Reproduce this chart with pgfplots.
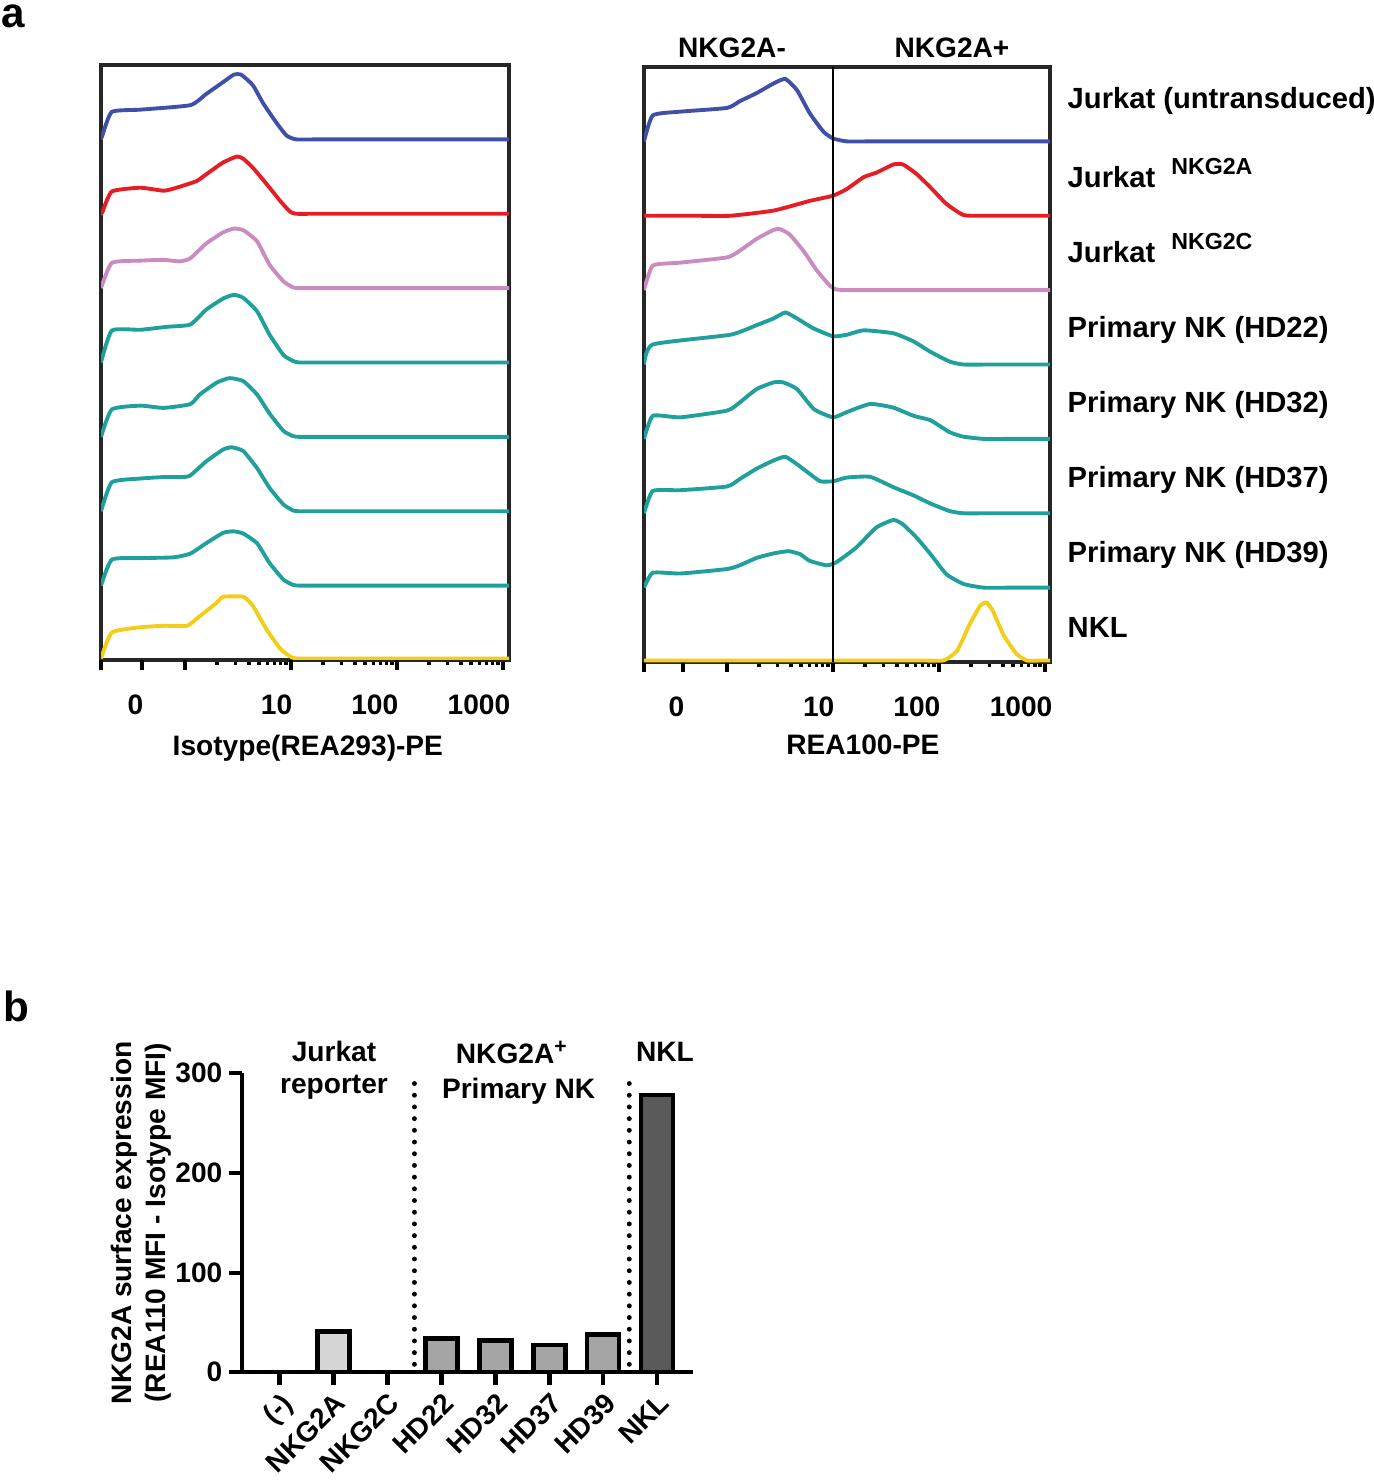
\documentclass[border=0pt]{standalone}
\usepackage{fontspec}
\setmainfont{Liberation Sans}
\usepackage{pgfplots}
\pgfplotsset{compat=1.18}
\definecolor{cblue}{HTML}{4050A8}
\definecolor{cred}{HTML}{E51E25}
\definecolor{cpink}{HTML}{C98BC0}
\definecolor{cteal}{HTML}{1FA09C}
\definecolor{cyel}{HTML}{F2CE1B}
\definecolor{glight}{HTML}{D6D6D6}
\definecolor{gmid}{HTML}{A5A5A5}
\definecolor{gdark}{HTML}{595959}
\newcommand{\fnt}{\bfseries\fontsize{8}{9.5}\selectfont}
\newcommand{\rfnt}{\bfseries\fontsize{8.3}{9.5}\selectfont}
\newcommand{\supl}[1]{\hspace{1.6mm}\raisebox{1.3mm}{\fontsize{6.6}{7}\selectfont #1}}
\pgfplotsset{
  histax/.style={
    scale only axis, height=59.5mm,
    ymin=0, ymax=8, ytick=\empty,
    axis line style={line width=1.1pt, black!85},
    tick align=outside, xtick pos=bottom,
    xtick={3},
    xticklabels={1000},
    major tick length=1.0mm, minor tick length=0.5mm,
    every tick/.style={black, line width=1pt},
    minor xtick={0.301,0.477,0.602,0.699,0.778,0.845,0.903,0.954,
                 1.301,1.477,1.602,1.699,1.778,1.845,1.903,1.954,
                 2.301,2.477,2.602,2.699,2.778,2.845,2.903,2.954},
    tick label style={font=\fnt},
    xticklabel style={anchor=north east, inner sep=0pt, xshift=0.8mm, yshift=-2.4mm},
    extra x tick style={xticklabel style={xshift=-0.6mm}},
    label style={font=\fnt},
  },
  hist/.style={line width=1.1pt, no marks, smooth, tension=0.3},
}
\begin{document}
\begin{tikzpicture}[x=0.1mm, y=0.1mm, every node/.style={font=\fnt}]
\path[use as bounding box] (0,0) rectangle (1374,1482);

% ---------------- panel a, left ----------------
\begin{axis}[histax, at={(10.1mm,82.2mm)}, anchor=south west, width=40.8mm,
  xmin=-0.792, xmax=3.057,
  extra x ticks={-0.792,-0.406,0,1,2},
  extra x tick labels={,0,,10,100},
  xlabel={Isotype(REA293)-PE},
  xlabel style={at={(axis description cs:0.507,-0.160)}, anchor=base}]
\addplot[hist, cblue] table[row sep=\\, header=false, y expr=\thisrowno{1}+7] {
-0.792 0\\ -0.78 0.05\\ -0.69 0.37\\ -0.42 0.40\\ 0.05 0.46\\ 0.20 0.61\\ 0.36 0.77\\ 0.46 0.87\\ 0.53 0.87\\ 0.64 0.73\\ 0.74 0.48\\ 0.87 0.21\\ 0.96 0.05\\ 1.05 0\\ 1.3 0\\ 3.057 0\\
};
\addplot[hist, cred] table[row sep=\\, header=false, y expr=\thisrowno{1}+6] {
-0.792 0\\ -0.78 0.02\\ -0.69 0.30\\ -0.42 0.35\\ -0.20 0.31\\ -0.08 0.35\\ 0.11 0.44\\ 0.20 0.53\\ 0.36 0.69\\ 0.49 0.77\\ 0.55 0.74\\ 0.64 0.62\\ 0.77 0.40\\ 0.90 0.17\\ 0.99 0.03\\ 1.05 0\\ 1.3 0\\ 3.057 0\\
};
\addplot[hist, cpink] table[row sep=\\, header=false, y expr=\thisrowno{1}+5] {
-0.792 0\\ -0.69 0.34\\ -0.42 0.37\\ -0.20 0.38\\ -0.05 0.36\\ 0.05 0.40\\ 0.20 0.60\\ 0.36 0.75\\ 0.46 0.80\\ 0.55 0.78\\ 0.68 0.63\\ 0.80 0.31\\ 0.93 0.09\\ 1.02 0.01\\ 1.08 0\\ 1.3 0\\ 3.057 0\\
};
\addplot[hist, cteal] table[row sep=\\, header=false, y expr=\thisrowno{1}+4] {
-0.792 0\\ -0.69 0.43\\ -0.42 0.44\\ -0.17 0.48\\ 0.05 0.51\\ 0.20 0.71\\ 0.36 0.86\\ 0.46 0.91\\ 0.55 0.87\\ 0.68 0.69\\ 0.80 0.37\\ 0.93 0.10\\ 1.02 0.02\\ 1.08 0\\ 1.3 0\\ 3.057 0\\
};
\addplot[hist, cteal] table[row sep=\\, header=false, y expr=\thisrowno{1}+3] {
-0.792 0\\ -0.69 0.37\\ -0.42 0.42\\ -0.20 0.39\\ 0.05 0.44\\ 0.14 0.57\\ 0.30 0.73\\ 0.42 0.79\\ 0.55 0.75\\ 0.68 0.57\\ 0.80 0.31\\ 0.93 0.08\\ 1.02 0.01\\ 1.08 0\\ 1.3 0\\ 3.057 0\\
};
\addplot[hist, cteal] table[row sep=\\, header=false, y expr=\thisrowno{1}+2] {
-0.792 0\\ -0.69 0.39\\ -0.42 0.44\\ -0.20 0.46\\ -0.02 0.46\\ 0.05 0.48\\ 0.20 0.67\\ 0.36 0.83\\ 0.44 0.86\\ 0.55 0.81\\ 0.68 0.58\\ 0.80 0.31\\ 0.93 0.09\\ 1.02 0.01\\ 1.08 0\\ 1.3 0\\ 3.057 0\\
};
\addplot[hist, cteal] table[row sep=\\, header=false, y expr=\thisrowno{1}+1] {
-0.792 0\\ -0.69 0.35\\ -0.42 0.37\\ -0.11 0.38\\ 0.05 0.43\\ 0.20 0.57\\ 0.36 0.71\\ 0.46 0.73\\ 0.55 0.70\\ 0.68 0.57\\ 0.80 0.30\\ 0.93 0.08\\ 1.02 0.01\\ 1.08 0\\ 1.3 0\\ 3.057 0\\
};
\addplot[hist, cyel] table[row sep=\\, header=false, y expr=\thisrowno{1}+0.02] {
-0.792 0\\ -0.69 0.35\\ -0.42 0.42\\ -0.20 0.44\\ 0.02 0.44\\ 0.14 0.57\\ 0.30 0.75\\ 0.36 0.83\\ 0.55 0.83\\ 0.64 0.71\\ 0.77 0.39\\ 0.90 0.13\\ 0.99 0.03\\ 1.05 0\\ 1.3 0\\ 3.057 0\\
};
\end{axis}

% ---------------- panel a, right ----------------
\begin{axis}[histax, at={(64.4mm,82.0mm)}, anchor=south west, width=40.6mm,
  xmin=-0.783, xmax=3.047,
  extra x ticks={-0.783,-0.415,0,1,2},
  extra x tick labels={,0,,10,100},
  xlabel={REA100-PE},
  xlabel style={at={(axis description cs:0.539,-0.156)}, anchor=base}]
\addplot[hist, cblue] table[row sep=\\, header=false, y expr=\thisrowno{1}+7] {
-0.783 0\\ -0.70 0.35\\ -0.44 0.40\\ 0.00 0.45\\ 0.12 0.54\\ 0.28 0.65\\ 0.44 0.78\\ 0.55 0.84\\ 0.66 0.69\\ 0.78 0.38\\ 0.91 0.13\\ 1.0 0.04\\ 1.13 0\\ 1.4 0\\ 3.047 0\\
};
\addplot[hist, cred] table[row sep=\\, header=false, y expr=\thisrowno{1}+6] {
-0.783 0\\ -0.3 0\\ 0.03 0\\ 0.44 0.07\\ 0.78 0.20\\ 1.0 0.27\\ 1.13 0.36\\ 1.29 0.52\\ 1.41 0.58\\ 1.57 0.69\\ 1.66 0.69\\ 1.79 0.56\\ 1.92 0.38\\ 2.07 0.16\\ 2.23 0.01\\ 2.42 0\\ 2.7 0\\ 3.047 0\\
};
\addplot[hist, cpink] table[row sep=\\, header=false, y expr=\thisrowno{1}+5] {
-0.783 0\\ -0.70 0.33\\ -0.44 0.37\\ 0.0 0.44\\ 0.12 0.53\\ 0.28 0.69\\ 0.44 0.81\\ 0.50 0.82\\ 0.59 0.75\\ 0.72 0.53\\ 0.85 0.26\\ 0.97 0.06\\ 1.03 0.01\\ 1.13 0\\ 1.4 0\\ 3.047 0\\
};
\addplot[hist, cteal] table[row sep=\\, header=false, y expr=\thisrowno{1}+4] {
-0.783 0\\ -0.70 0.27\\ 0.03 0.40\\ 0.28 0.53\\ 0.44 0.62\\ 0.55 0.70\\ 0.66 0.62\\ 0.81 0.49\\ 1.0 0.38\\ 1.13 0.40\\ 1.29 0.46\\ 1.57 0.42\\ 1.76 0.31\\ 1.92 0.17\\ 2.10 0.04\\ 2.23 0\\ 2.5 0\\ 3.047 0\\
};
\addplot[hist, cteal] table[row sep=\\, header=false, y expr=\thisrowno{1}+3] {
-0.783 0\\ -0.70 0.31\\ -0.44 0.29\\ 0.0 0.38\\ 0.12 0.49\\ 0.28 0.67\\ 0.44 0.76\\ 0.53 0.76\\ 0.66 0.67\\ 0.82 0.40\\ 1.0 0.29\\ 1.13 0.36\\ 1.35 0.47\\ 1.57 0.42\\ 1.76 0.31\\ 1.92 0.25\\ 2.10 0.09\\ 2.23 0.03\\ 2.42 0\\ 2.7 0\\ 3.047 0\\
};
\addplot[hist, cteal] table[row sep=\\, header=false, y expr=\thisrowno{1}+2] {
-0.783 0\\ -0.70 0.30\\ -0.44 0.31\\ 0.0 0.36\\ 0.12 0.46\\ 0.28 0.60\\ 0.44 0.71\\ 0.55 0.76\\ 0.66 0.66\\ 0.78 0.53\\ 0.88 0.43\\ 1.0 0.43\\ 1.13 0.48\\ 1.35 0.49\\ 1.57 0.35\\ 1.76 0.24\\ 1.92 0.13\\ 2.10 0.03\\ 2.23 0\\ 2.5 0\\ 3.047 0\\
};
\addplot[hist, cteal] table[row sep=\\, header=false, y expr=\thisrowno{1}+1] {
-0.783 0\\ -0.70 0.20\\ -0.44 0.19\\ 0.0 0.25\\ 0.12 0.30\\ 0.28 0.40\\ 0.44 0.46\\ 0.58 0.49\\ 0.69 0.45\\ 0.78 0.36\\ 0.94 0.30\\ 1.03 0.34\\ 1.22 0.54\\ 1.41 0.81\\ 1.57 0.91\\ 1.66 0.85\\ 1.79 0.67\\ 1.92 0.45\\ 2.07 0.18\\ 2.23 0.05\\ 2.42 0\\ 2.7 0\\ 3.047 0\\
};
\addplot[hist, cyel] table[row sep=\\, header=false, y expr=\thisrowno{1}+0.02] {
-0.783 0\\ 1.8 0\\ 2.04 0\\ 2.17 0.13\\ 2.29 0.49\\ 2.39 0.74\\ 2.45 0.78\\ 2.51 0.66\\ 2.61 0.34\\ 2.73 0.09\\ 2.83 0\\ 2.95 0\\ 3.047 0\\
};
\draw[black, line width=0.6pt] (axis cs:1,0) -- (axis cs:1,8);
\end{axis}

% labels of panel a
\node[anchor=base west, inner sep=0pt, font=\bfseries\fontsize{12}{14}\selectfont] at (1,1454) {a};
\node[anchor=base] at (732,1424) {NKG2A-};
\node[anchor=base] at (952,1424) {NKG2A+};
\begin{scope}[every node/.style={anchor=base west, inner sep=0pt, font=\rfnt}]
\node at (1067,1373) {Jurkat (untransduced)};
\node at (1067,1294) {Jurkat\supl{NKG2A}};
\node at (1067,1219) {Jurkat\supl{NKG2C}};
\node at (1067,1144) {Primary NK (HD22)};
\node at (1067,1069) {Primary NK (HD32)};
\node at (1067,994) {Primary NK (HD37)};
\node at (1067,919) {Primary NK (HD39)};
\node at (1067,844) {NKL};
\end{scope}

% ---------------- panel b ----------------
\node[anchor=base west, inner sep=0pt, font=\bfseries\fontsize{12}{14}\selectfont] at (3,460) {b};
\begin{axis}[at={(24.17mm,10.97mm)}, anchor=south west, scale only axis,
  width=45.13mm, height=29.9mm,
  xmin=-0.70, xmax=7.66, ymin=0, ymax=300,
  axis lines=left, axis line style={-, line width=1.2pt, black},
  tick align=outside, major tick length=1.3mm,
  every tick/.style={black, line width=1.2pt},
  xtick={0,1,2,3,4,5,6,7},
  xticklabels={(-),NKG2A,NKG2C,HD22,HD32,HD37,HD39,NKL},
  ytick={0,100,200,300}, yticklabels={0,100,200,300},
  tick label style={font=\fnt},
  xticklabel style={rotate=45, anchor=north east, inner sep=1pt},
  yticklabel style={xshift=0.6mm},
  ylabel={NKG2A surface expression\\(REA110 MFI - Isotype MFI)},
  ylabel style={font=\fnt, align=center, at={(axis description cs:-0.223,0.5)}, anchor=center},
  clip=false]
\addplot[ybar, bar width=3.2mm, bar shift=0pt, fill=glight, draw=black, line width=1.2pt]
  coordinates {(0,0) (1,41) (2,0)};
\addplot[ybar, bar width=3.2mm, bar shift=0pt, fill=gmid, draw=black, line width=1.2pt]
  coordinates {(3,34) (4,32) (5,27) (6,38)};
\addplot[ybar, bar width=3.2mm, bar shift=0pt, fill=gdark, draw=black, line width=1.2pt]
  coordinates {(7,278)};
\draw[black, line width=1.4pt, line cap=round, dash pattern=on 0pt off 1.17mm] (axis cs:2.5,8) -- (axis cs:2.5,300);
\draw[black, line width=1.4pt, line cap=round, dash pattern=on 0pt off 1.17mm] (axis cs:6.48,8) -- (axis cs:6.48,300);
\node[anchor=base] at (axis cs:1.01,312) {Jurkat};
\node[anchor=base] at (axis cs:1.01,280) {reporter};
\node[anchor=base] at (axis cs:4.31,310) {NKG2A\textsuperscript{+}};
\node[anchor=base] at (axis cs:4.43,275) {Primary NK};
\node[anchor=base] at (axis cs:7.14,312) {NKL};
\end{axis}
\end{tikzpicture}
\end{document}
